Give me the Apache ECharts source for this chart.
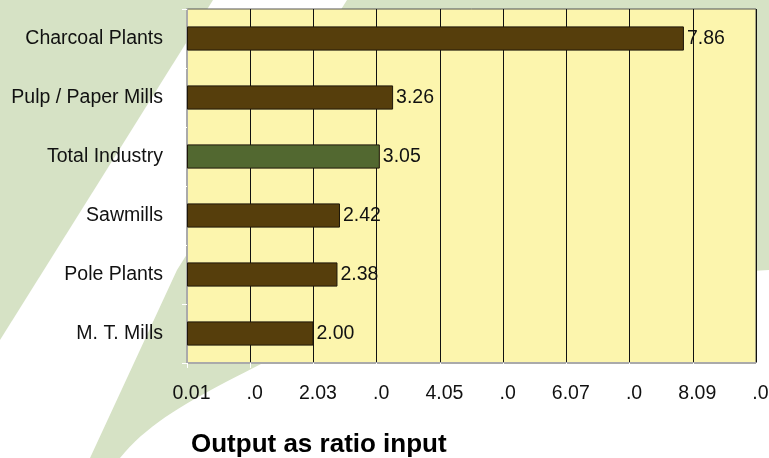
<!DOCTYPE html>
<html>
<head>
<meta charset="utf-8">
<script src="https://cdn.jsdelivr.net/npm/echarts@6/dist/echarts.min.js"></script>
<style>html,body{margin:0;padding:0;background:#fff}#c{width:769px;height:458px}</style>
</head>
<body>
<div id="c"></div>
<script>
const categories = ["Charcoal Plants", "Pulp / Paper Mills", "Total Industry", "Sawmills", "Pole Plants", "M. T. Mills"];
const values = [7.86, 3.26, 3.05, 2.42, 2.38, 2.00];
const highlighted = ["Total Industry"];
const tickLabels = ["0.01", ".0", "2.03", ".0", "4.05", ".0", "6.07", ".0", "8.09", ".0"];
const axisTitle = "Output as ratio input";

const BROWN = '#563E0C', GREEN = '#526830';
const font = 'Liberation Sans, Arial, Helvetica, sans-serif';

// decorative background swoosh (cubic bezier sampled into polygon points)
function cubic(p0, p1, p2, p3, n) {
  const pts = [];
  for (let k = 0; k <= n; k++) {
    const t = k / n, u = 1 - t;
    pts.push([
      u*u*u*p0[0] + 3*u*u*t*p1[0] + 3*u*t*t*p2[0] + t*t*t*p3[0],
      u*u*u*p0[1] + 3*u*u*t*p1[1] + 3*u*t*t*p2[1] + t*t*t*p3[1]
    ]);
  }
  return pts;
}
const swoosh = [[347,0],[769,0],[769,270]]
  .concat(cubic([769,270],[600,280],[340,325],[263,363], 30))
  .concat(cubic([263,363],[200,395],[150,420],[120,458], 20))
  .concat([[90,458],[177,270]]);

const chart = echarts.init(document.getElementById('c'), null, {renderer: 'canvas'});
chart.setOption({
  backgroundColor: '#ffffff',
  animation: false,
  textStyle: {fontFamily: font},
  graphic: [
    {type: 'polygon', z: -100, silent: true,
     shape: {points: [[0,0],[213,0],[0,340]]}, style: {fill: '#D6E2C5'}},
    {type: 'polygon', z: -100, silent: true,
     shape: {points: swoosh}, style: {fill: '#D6E2C5'}}
  ],
  title: {
    text: axisTitle, left: 186, top: 427,
    textStyle: {fontFamily: font, fontSize: 26, fontWeight: 'bold', color: '#000'}
  },
  grid: {left: 187, right: 13, top: 9, bottom: 95, show: true, outerBoundsMode: 'none', containLabel: false,
         backgroundColor: '#FCF5AD', borderColor: '#555', borderWidth: 1},
  xAxis: {
    type: 'value', min: 0, max: 9, interval: 1,
    axisLine: {show: true, lineStyle: {color: '#aaa', width: 2}},
    axisTick: {show: true, length: 5, lineStyle: {color: '#fff', width: 1}},
    splitLine: {show: true, lineStyle: {color: '#111', width: 1}},
    axisLabel: {
      margin: 21, fontSize: 19.5, color: '#111', fontFamily: font, padding: [0, 0, 0, 9],
      formatter: function (v) { const i = Math.round(v); return tickLabels[i] !== undefined ? tickLabels[i] : ''; }
    }
  },
  yAxis: {
    type: 'category', data: categories, inverse: true,
    axisLine: {show: true, lineStyle: {color: '#aaa', width: 2}},
    axisTick: {show: true, length: 5, lineStyle: {color: '#fff', width: 1}},
    axisLabel: {margin: 24, fontSize: 19.5, color: '#111', fontFamily: font}
  },
  series: [{
    type: 'bar',
    barCategoryGap: '59%',
    data: values.map((v, i) => ({
      value: v,
      itemStyle: {color: highlighted.includes(categories[i]) ? GREEN : BROWN}
    })),
    itemStyle: {borderColor: '#1e1608', borderWidth: 1},
    label: {show: true, position: 'right', distance: 3, fontSize: 19.5, color: '#111', fontFamily: font,
            formatter: p => p.value.toFixed(2)}
  }]
});
</script>
</body>
</html>
